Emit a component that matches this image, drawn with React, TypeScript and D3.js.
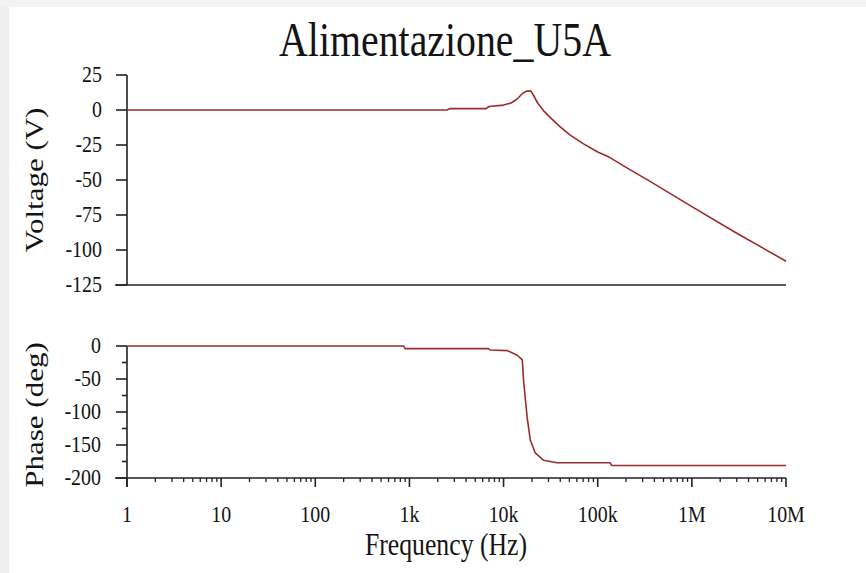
import React from "react";
import * as d3 from "d3";

const freqV = [1, 2500, 2700, 6500, 7000, 10000, 12000, 14000, 16000, 17500, 19500, 21000, 23000, 27000, 32000, 40000, 51000, 70000, 100000, 135000, 200000, 360000, 1e6, 3e6, 1e7];
const volt = [0, 0, 1, 1, 2.5, 3.5, 5, 8, 12, 13.5, 13.5, 10, 5, -1, -6, -12, -18, -24, -30, -34, -41, -51, -69, -88, -108];

const freqP = [1, 870, 900, 6900, 7200, 11000, 14000, 15800, 16300, 17800, 19200, 21700, 26500, 37000, 136000, 140000, 1e7];
const phase = [0, 0, -4, -4, -6, -7, -14, -21, -52, -108, -142, -162, -173, -177, -177, -181, -181];

const voltTicks = [25, 0, -25, -50, -75, -100, -125];
const phaseTicks = [0, -50, -100, -150, -200];
const phaseMinor = [-25, -75, -125, -175];
const freqTicks = [1, 10, 100, 1e3, 1e4, 1e5, 1e6, 1e7];
const freqLabels = ["1", "10", "100", "1k", "10k", "100k", "1M", "10M"];

const title = "Alimentazione_U5A";
const vLabel = "Voltage (V)";
const pLabel = "Phase (deg)";
const fLabel = "Frequency (Hz)";

const SX = 0.83;
const FONT = "'Liberation Serif', 'Times New Roman', serif";
const LINE = "#9b2c2c";

export default function App() {
  const x = d3.scaleLog().domain([1, 1e7]).range([127, 786]);
  const yV = d3.scaleLinear().domain([-125, 25]).range([285, 75]);
  const yP = d3.scaleLinear().domain([-200, 0]).range([478, 346]);

  const vLine = d3.line<number>().x((_, i) => x(freqV[i])).y((d) => yV(d));
  const pLine = d3.line<number>().x((_, i) => x(freqP[i])).y((d) => yP(d));

  const minorF: number[] = [];
  for (let e = 0; e < 7; e++) for (let k = 2; k <= 9; k++) minorF.push(k * Math.pow(10, e));

  const T = (props: { x: number; y: number; size: number; anchor?: string; rot?: boolean; children: string }) => (
    <text
      transform={`translate(${props.x},${props.y}) scale(${SX},1)${props.rot ? " rotate(-90)" : ""}`}
      textAnchor={props.anchor || "middle"}
      fontFamily={FONT}
      fontSize={props.size}
      fill="#141414"
    >
      {props.children}
    </text>
  );

  return (
    <svg width={866} height={573} style={{ position: "absolute", left: 0, top: 0, background: "#fff" }}>
      <rect x={0} y={0} width={866} height={573} fill="#fff" />
      <rect x={0} y={0} width={9} height={573} fill="#efefef" />
      <rect x={0} y={0} width={866} height={7} fill="#f3f3f3" />

      <T x={445} y={56} size={48}>{title}</T>

      {/* Voltage panel */}
      <g stroke="#222" strokeWidth={1.6} fill="none">
        <line x1={x(1)} x2={x(1)} y1={yV(25)} y2={yV(-125)} />
        <line x1={x(1) - 12} x2={x(1e7)} y1={yV(-125)} y2={yV(-125)} />
        {voltTicks.map((t) => (
          <line key={t} x1={x(1) - 11} x2={x(1)} y1={yV(t)} y2={yV(t)} />
        ))}
      </g>
      {voltTicks.map((t) => (
        <T key={t} x={102} y={yV(t) + 7} size={24} anchor="end">{String(t)}</T>
      ))}
      <T x={43} y={yV(-50) + 0} size={31} rot>{vLabel}</T>
      <path d={vLine(volt) || ""} fill="none" stroke={LINE} strokeWidth={1.6} strokeLinejoin="round" />

      {/* Phase panel */}
      <g stroke="#222" strokeWidth={1.6} fill="none">
        <line x1={x(1)} x2={x(1)} y1={yP(0)} y2={yP(-200) + 9} />
        <line x1={x(1) - 12} x2={x(1e7)} y1={yP(-200)} y2={yP(-200)} />
        {phaseTicks.map((t) => (
          <line key={t} x1={x(1) - 11} x2={x(1)} y1={yP(t)} y2={yP(t)} />
        ))}
        {phaseMinor.map((t) => (
          <line key={t} x1={x(1) - 5} x2={x(1)} y1={yP(t)} y2={yP(t)} />
        ))}
        {freqTicks.map((f) => (
          <line key={f} x1={x(f)} x2={x(f)} y1={yP(-200)} y2={yP(-200) + 9} />
        ))}
        {minorF.map((f) => (
          <line key={f} x1={x(f)} x2={x(f)} y1={yP(-200)} y2={yP(-200) + 4} strokeWidth={1.3} />
        ))}
      </g>
      {phaseTicks.map((t) => (
        <T key={t} x={101} y={yP(t) + 7} size={24} anchor="end">{String(t)}</T>
      ))}
      <T x={43} y={415} size={31} rot>{pLabel}</T>
      <path d={pLine(phase) || ""} fill="none" stroke={LINE} strokeWidth={1.6} strokeLinejoin="round" />

      {freqTicks.map((f, i) => (
        <T key={f} x={x(f)} y={522} size={24}>{freqLabels[i]}</T>
      ))}
      <T x={446} y={555} size={31}>{fLabel}</T>
    </svg>
  );
}
